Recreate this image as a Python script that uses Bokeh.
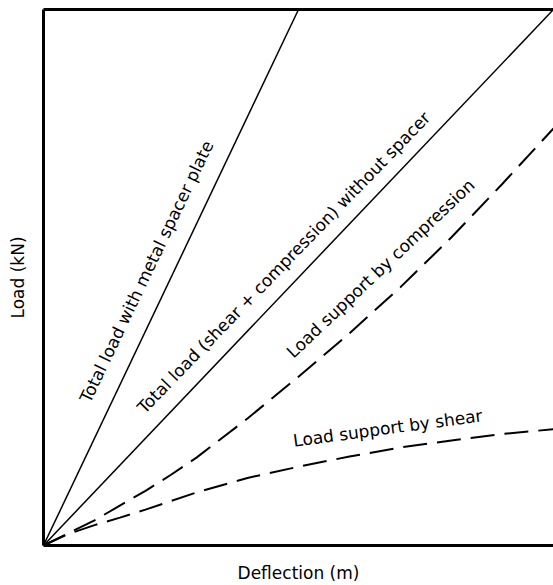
import math
from bokeh.plotting import figure
from bokeh.models import Range1d, FixedTicker, ColumnDataSource, LinearAxis
from bokeh.core.properties import value
from bokeh.embed import file_html
from bokeh.resources import INLINE

# ---- data (relative units) ----
deflection_spacer = [0.0, 0.5]
load_spacer = [0.0, 1.0]

deflection_total = [0.0, 1.0]
load_total = [0.0, 1.0]

deflection_compression = [0.0, 0.1, 0.2, 0.25, 0.3, 0.4, 0.5, 0.6, 0.7, 0.8, 0.9, 1.0]
load_compression = [0.0, 0.047, 0.102, 0.132, 0.164, 0.237, 0.315, 0.396, 0.482, 0.575, 0.675, 0.778]

deflection_shear = [0.0, 0.05, 0.1, 0.15, 0.2, 0.3, 0.4, 0.5, 0.6, 0.7, 0.8, 0.9, 1.0]
load_shear = [0.0, 0.022, 0.038, 0.052, 0.067, 0.099, 0.126, 0.147, 0.166, 0.183, 0.196, 0.208, 0.217]

label_texts = [
    "Total load with metal spacer plate",
    "Total load (shear + compression) without spacer",
    "Load support by compression",
    "Load support by shear",
]
label_x = [0.202, 0.471, 0.661, 0.675]
label_y = [0.511, 0.528, 0.517, 0.219]
label_angle_deg = [64.5, 45.9, 43.4, 7.7]

x_title = "Deflection (m)"
y_title = "Load (kN)"

FONT = "DejaVu Sans"

p = figure(
    width=553, height=585,
    output_backend="svg", toolbar_location=None,
    x_range=Range1d(0, 1), y_range=Range1d(0, 1),
    min_border_left=43, min_border_right=0,
    min_border_top=9, min_border_bottom=36,
)
p.background_fill_color = "white"
p.border_fill_color = "white"
p.grid.visible = False
p.outline_line_color = None

bottom_axis = p.below[0]
left_axis = p.left[0]
top_axis = LinearAxis()
p.add_layout(top_axis, "above")

for ax in (bottom_axis, left_axis, top_axis):
    ax.ticker = FixedTicker(ticks=[])
    ax.major_tick_in = 0
    ax.major_tick_out = 0
    ax.minor_tick_in = 0
    ax.minor_tick_out = 0
    ax.major_label_standoff = 0
    ax.axis_line_color = "black"
    ax.axis_line_width = 3
    ax.axis_label_text_font = FONT
    ax.axis_label_text_font_size = "17px"
    ax.axis_label_text_font_style = "normal"
    ax.axis_label_text_color = "black"

bottom_axis.axis_label = x_title
bottom_axis.axis_label_standoff = 17
left_axis.axis_label = y_title
left_axis.axis_label_standoff = 16

p.line(deflection_spacer, load_spacer, line_color="black", line_width=1.5)
p.line(deflection_total, load_total, line_color="black", line_width=1.5)
p.line(deflection_compression, load_compression, line_color="black", line_width=2, line_dash="24 10")
p.line(deflection_shear, load_shear, line_color="black", line_width=2, line_dash="24 10")

src = ColumnDataSource(dict(
    x=label_x, y=label_y, text=label_texts,
    angle=[math.radians(a) for a in label_angle_deg],
))
p.text(x="x", y="y", text="text", angle="angle", source=src,
       text_font=value(FONT), text_font_size="17px", text_color="black",
       text_align="center", text_baseline="middle")

open("out.html", "w").write(file_html(p, INLINE))
